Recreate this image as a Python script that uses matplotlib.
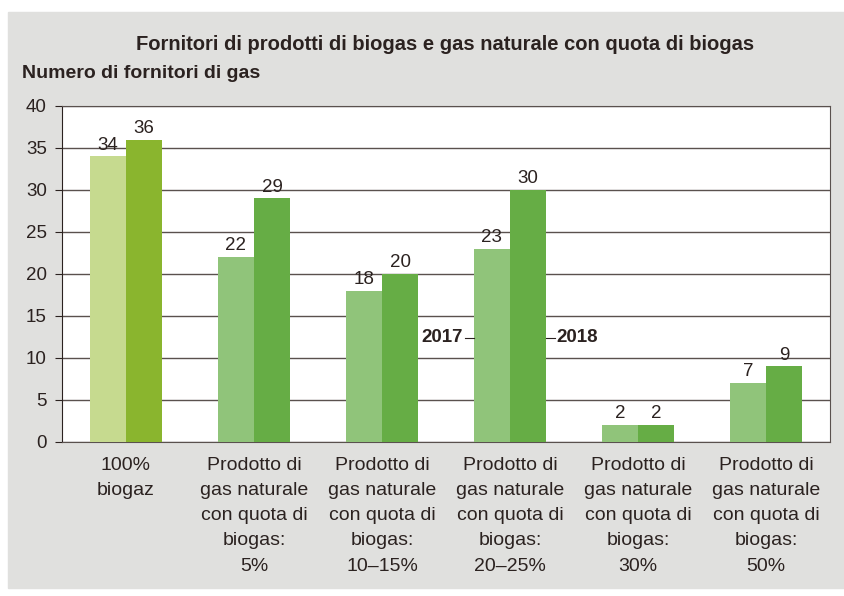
import matplotlib.pyplot as plt
import numpy as np
from matplotlib.patches import Rectangle

plt.rcParams['font.family'] = ['Liberation Sans', 'DejaVu Sans']

# dati
categorie = ['100%\nbiogaz',
             'Prodotto di\ngas naturale\ncon quota di\nbiogas:\n5%',
             'Prodotto di\ngas naturale\ncon quota di\nbiogas:\n10–15%',
             'Prodotto di\ngas naturale\ncon quota di\nbiogas:\n20–25%',
             'Prodotto di\ngas naturale\ncon quota di\nbiogas:\n30%',
             'Prodotto di\ngas naturale\ncon quota di\nbiogas:\n50%']
valori_2017 = [34, 22, 18, 23, 2, 7]
valori_2018 = [36, 29, 20, 30, 2, 9]

testo = '#2b2220'
chiaro = ['#c6da8f'] + ['#90c47a'] * 5
scuro = ['#8ab52e'] + ['#66ad45'] * 5

fig = plt.figure(figsize=(8.45, 5.96), dpi=100)
sfondo = Rectangle((8 / 845, 8 / 596), 837 / 845, 576 / 596,
                   transform=fig.transFigure, color='#e0e0de', zorder=-10)
fig.add_artist(sfondo)

ax = fig.add_axes([62 / 845, 154 / 596, 768 / 845, 336 / 596])
ax.set_zorder(1)
ax.set_facecolor('white')

x = np.arange(len(categorie))
w = 0.285
ax.bar(x - w / 2, valori_2017, w, color=chiaro, zorder=3)
ax.bar(x + w / 2, valori_2018, w, color=scuro, zorder=3)

for i in range(len(x)):
    ax.annotate(str(valori_2017[i]), (x[i] - w / 2, valori_2017[i]), xytext=(0, 2),
                textcoords='offset points', ha='center', va='bottom', fontsize=13.5, color=testo)
    ax.annotate(str(valori_2018[i]), (x[i] + w / 2, valori_2018[i]), xytext=(0, 2),
                textcoords='offset points', ha='center', va='bottom', fontsize=13.5, color=testo)

# etichette anni
ax.plot([3 - w - 0.07, 3 - w], [12.4, 12.4], color=testo, lw=0.8, zorder=4)
ax.plot([3 + w, 3 + w + 0.07], [12.4, 12.4], color=testo, lw=0.8, zorder=4)
ax.text(3 - w - 0.08, 12.4, '2017', ha='right', va='center', fontsize=13.5,
        fontweight='bold', color=testo, zorder=4)
ax.text(3 + w + 0.08, 12.4, '2018', ha='left', va='center', fontsize=13.5,
        fontweight='bold', color=testo, zorder=4)

ax.set_xlim(-0.5, 5.5)
ax.set_ylim(0, 40)
ax.set_yticks(range(0, 41, 5))
ax.yaxis.grid(True, color='#5a514e', lw=1.0, zorder=1)
ax.set_axisbelow(True)
ax.tick_params(axis='y', length=5, width=0.8, color=testo, labelsize=13.5, labelcolor=testo, pad=6)
ax.set_xticks(x)
ax.set_xticklabels(categorie, fontsize=14, color=testo, linespacing=1.62, va='top')
ax.tick_params(axis='x', length=0, pad=11)
for s in ax.spines.values():
    s.set_color('#5a514e')
    s.set_linewidth(0.8)
ax.spines['left'].set_color(testo)

fig.text(445 / 845, 1 - 44 / 596, 'Fornitori di prodotti di biogas e gas naturale con quota di biogas',
         ha='center', va='center', fontsize=14.5, fontweight='bold', color=testo)
fig.text(22 / 845, 1 - 73 / 596, 'Numero di fornitori di gas', ha='left', va='center',
         fontsize=14, fontweight='bold', color=testo)

fig.savefig('out.png', dpi=100)
